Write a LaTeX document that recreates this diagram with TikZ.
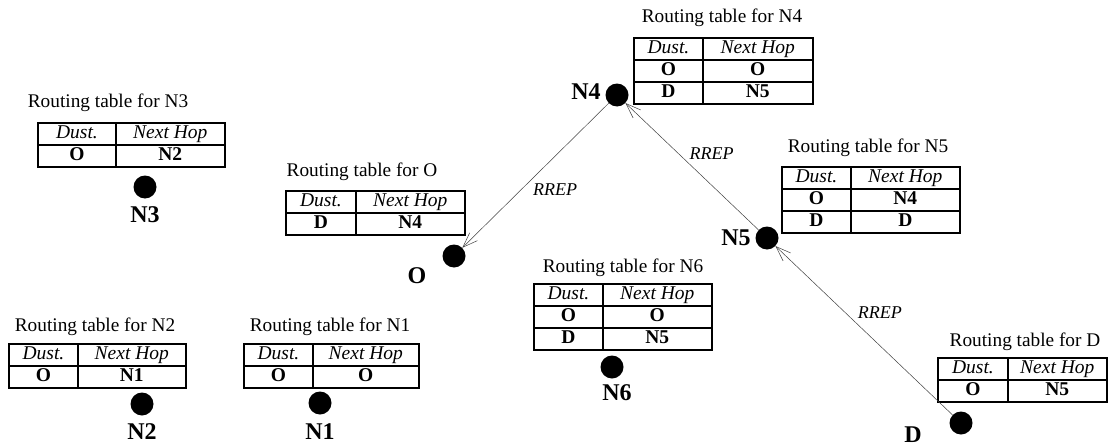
\documentclass[tikz,border=0pt]{standalone}
\usepackage{fontspec}
\setmainfont{Liberation Serif}
\usepackage{array}
\usetikzlibrary{arrows.meta,positioning}

\newcolumntype{C}[1]{>{\centering\arraybackslash}p{#1}}
\setlength{\tabcolsep}{0pt}
\setlength{\arrayrulewidth}{1.8pt}
% routing table: widths of the two columns, then the rows
\newcommand{\rtab}[3]{%
  \begin{tabular}{|C{#1pt}|C{#2pt}|}\hline
  \textit{Dust.} & \textit{Next Hop}\\\hline
  #3
  \end{tabular}}

\tikzset{
  ttl/.style={inner sep=0pt, font=\fontsize{19.3}{20}\selectfont},
  tab/.style={inner sep=0pt, anchor=north west, font=\fontsize{19.5}{20.2}\selectfont},
  dot/.style={circle, fill=black, minimum size=23pt, inner sep=0pt},
  lbl/.style={inner sep=0pt, font=\fontsize{24}{24}\selectfont\bfseries},
  msg/.style={-{Straight Barb[length=15pt,width=11pt]}, line width=0.5pt, black!75},
  rr/.style={inner sep=0pt, text=black, font=\fontsize{18}{20}\selectfont\itshape}
}

\begin{document}
\begin{tikzpicture}[x=1pt, y=-1pt]
  \useasboundingbox (0,0) rectangle (1109,447);

  % N3
  \node[ttl] (tN3) at (108,103) {Routing table for N3};
  \node[tab] (rN3) at (37,122) {\rtab{76}{107}{\textbf{O} & \textbf{N2}\\\hline}};
  \node[dot] (N3) at (145,187) {};
  \node[lbl] (lN3) at (145,215) {N3};

  % O
  \node[ttl] (tO) at (362,172) {Routing table for O};
  \node[tab] (rO) at (285,190) {\rtab{68}{107}{\textbf{D} & \textbf{N4}\\\hline}};
  \node[dot] (O) at (454,256) {};
  \node[lbl] (lO) at (417,276) {O};

  % N4
  \node[ttl] (tN4) at (722,18) {Routing table for N4};
  \node[tab] (rN4) at (633,37) {\rtab{67}{108}{\textbf{O} & \textbf{O}\\\hline \textbf{D} & \textbf{N5}\\\hline}};
  \node[dot] (N4) at (617,95) {};
  \node[lbl] (lN4) at (586,92) {N4};

  % N5
  \node[ttl] (tN5) at (868,148) {Routing table for N5};
  \node[tab] (rN5) at (781,166) {\rtab{67}{107}{\textbf{O} & \textbf{N4}\\\hline \textbf{D} & \textbf{D}\\\hline}};
  \node[dot] (N5) at (767,238) {};
  \node[lbl] (lN5) at (736,238) {N5};

  % N6
  \node[ttl] (tN6) at (623,268) {Routing table for N6};
  \node[tab] (rN6) at (533,283) {\rtab{67}{107}{\textbf{O} & \textbf{O}\\\hline \textbf{D} & \textbf{N5}\\\hline}};
  \node[dot] (N6) at (612,367) {};
  \node[lbl] (lN6) at (617,393) {N6};

  % N2
  \node[ttl] (tN2) at (95,327) {Routing table for N2};
  \node[tab] (rN2) at (8,343) {\rtab{67}{106}{\textbf{O} & \textbf{N1}\\\hline}};
  \node[dot] (N2) at (142,404) {};
  \node[lbl] (lN2) at (142,432) {N2};

  % N1
  \node[ttl] (tN1) at (330,327) {Routing table for N1};
  \node[tab] (rN1) at (243,343) {\rtab{67}{104}{\textbf{O} & \textbf{O}\\\hline}};
  \node[dot] (N1) at (320,403) {};
  \node[lbl] (lN1) at (320,432) {N1};

  % D
  \node[ttl] (tD) at (1025,342) {Routing table for D};
  \node[tab] (rD) at (937,357) {\rtab{68}{97}{\textbf{O} & \textbf{N5}\\\hline}};
  \node[dot] (D) at (961,423) {};
  \node[lbl] (lD) at (913,435) {D};

  % RREP back to O
  \draw[msg] (D) -- node[rr, pos=0.57, anchor=south west, xshift=6pt] {RREP} (N5);
  \draw[msg] (N5) -- node[rr, pos=0.55, anchor=south west, xshift=4pt] {RREP} (N4);
  \draw[msg] (N4) -- node[rr, pos=0.6, anchor=west, xshift=12pt] {RREP} (O);
\end{tikzpicture}
\end{document}
